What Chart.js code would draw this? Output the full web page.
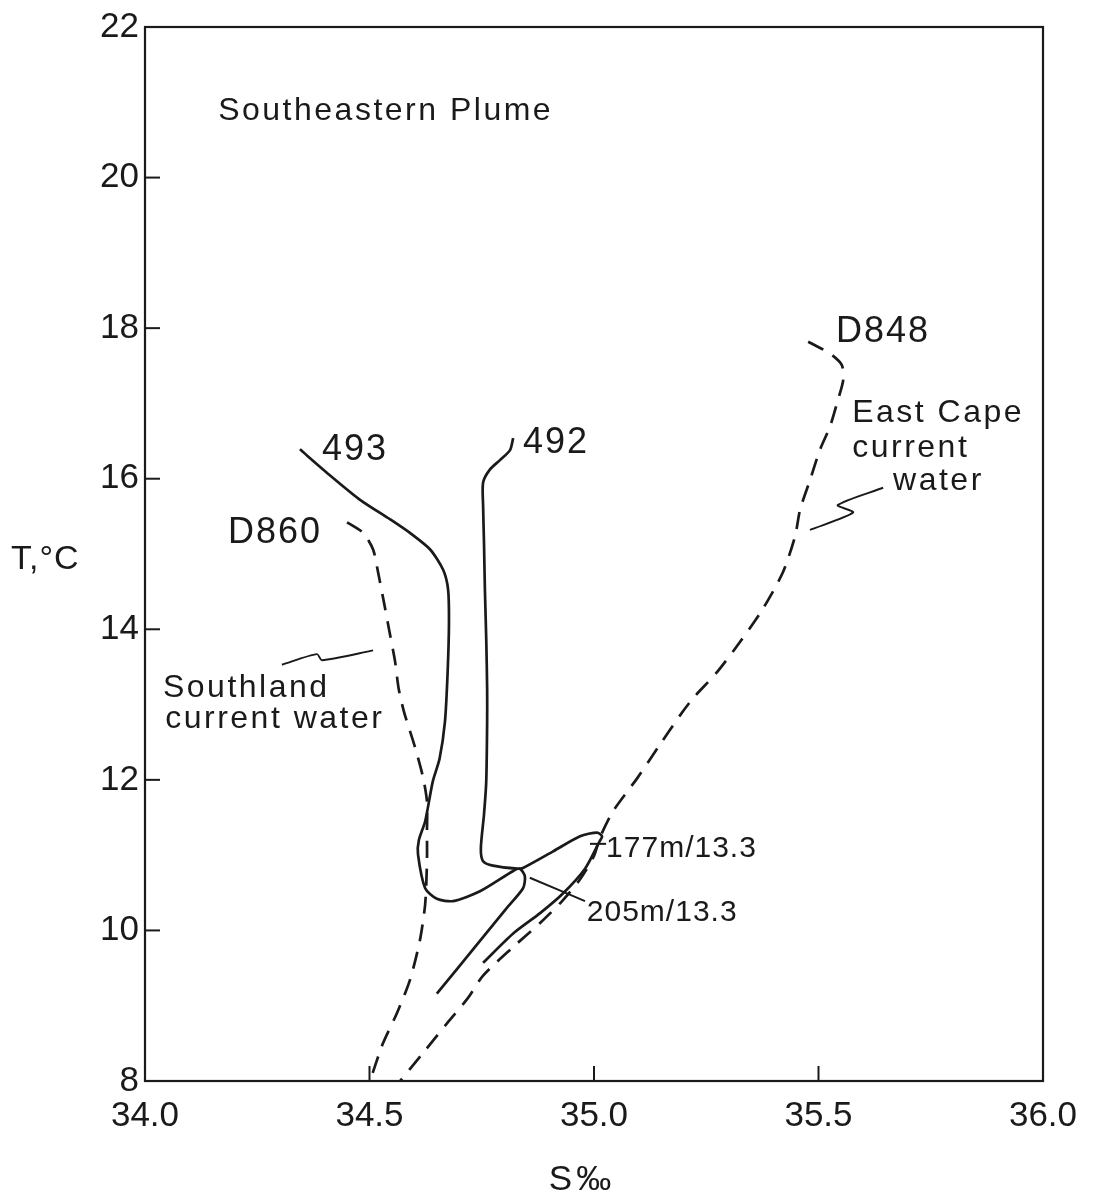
<!DOCTYPE html>
<html>
<head>
<meta charset="utf-8">
<script src="https://cdn.jsdelivr.net/npm/chart.js@4/dist/chart.umd.min.js"></script>
<style>
  html, body { margin: 0; padding: 0; background: #ffffff; }
  #wrap { width: 1097px; height: 1203px; }
</style>
</head>
<body>
<div id="wrap"><canvas id="c" width="1097" height="1203"></canvas></div>
<script>
// ---- Axis ticks ----
const xTicks = [34.0, 34.5, 35.0, 35.5, 36.0];
const yTicks = [8, 10, 12, 14, 16, 18, 20, 22];

// ---- Station 493 (solid) ----
const s493 = [34.345,34.405,34.479,34.546,34.590,34.635,34.664,34.675,34.677,34.674,34.668,34.656,34.641,34.624,34.610,34.608,34.624,34.650,34.686,34.746,34.820,34.835,34.846,34.842,34.806,34.746,34.650];
const t493 = [16.39,16.08,15.72,15.46,15.28,15.06,14.79,14.53,14.09,13.43,12.77,12.28,11.98,11.45,11.20,11.01,10.56,10.42,10.39,10.52,10.79,10.82,10.72,10.56,10.30,9.86,9.16];

// ---- Station 492 (solid) ----
const s492 = [34.820,34.813,34.791,34.768,34.753,34.753,34.755,34.757,34.760,34.762,34.762,34.760,34.755,34.748,34.753,34.775,34.829,34.842,34.909,34.969,35.007,35.018,35.013,34.980,34.929,34.880,34.820,34.753];
const t492 = [16.54,16.38,16.25,16.12,15.95,15.64,15.15,14.53,13.87,13.21,12.77,11.98,11.54,11.09,10.92,10.86,10.82,10.83,11.05,11.25,11.30,11.25,11.19,10.82,10.48,10.23,9.96,9.57];

// ---- Station D860 (dashed, Southland current water) ----
const sD860 = [34.450,34.486,34.508,34.519,34.535,34.546,34.557,34.565,34.577,34.601,34.619,34.628,34.628,34.628,34.624,34.612,34.590,34.561,34.530,34.501];
const tD860 = [15.42,15.28,15.06,14.76,14.27,13.92,13.57,13.21,12.90,12.44,12.04,11.71,11.32,10.92,10.35,9.86,9.34,8.90,8.50,8.00];

// ---- Station D848 (dashed, East Cape current water) ----
const sD848 = [35.477,35.526,35.552,35.555,35.543,35.526,35.503,35.481,35.459,35.448,35.421,35.376,35.325,35.274,35.220,35.192,35.147,35.096,35.042,35.013,35.000,34.969,34.929,34.880,34.820,34.753,34.719,34.673,34.619,34.568];
const tD848 = [17.82,17.66,17.51,17.31,17.04,16.70,16.38,15.98,15.59,15.24,14.76,14.27,13.83,13.43,13.08,12.86,12.47,12.02,11.58,11.23,10.99,10.68,10.39,10.10,9.78,9.40,9.10,8.77,8.37,8.00];

// ---- Annotation leader lines ----
const sLeadSouth = [34.305,34.383,34.394,34.508];
const tLeadSouth = [13.53,13.67,13.59,13.72];
const sLeadEast = [35.481,35.577,35.543,35.644];
const tLeadEast = [15.32,15.55,15.65,15.88];
const sLead205 = [34.857,34.980];
const tLead205 = [10.70,10.39];
const sMark177 = [34.991,35.027];
const tMark177 = [11.15,11.15];

// ---- Text labels (anchor S, T; left aligned) ----
const labelTexts = ["Southeastern Plume","493","492","D860","D848","East Cape","current","water","Southland","current water","177m/13.3","205m/13.3"];
const labelS = [34.163,34.394,34.842,34.185,35.539,35.575,35.575,35.666,34.040,34.045,35.027,34.984];
const labelT = [20.88,16.38,16.47,15.28,17.95,16.87,16.41,15.97,13.22,12.80,11.08,10.23];

const FONT = '"Liberation Sans", Arial, sans-serif';
const INK = '#1a1a1a';

function pts(s, t) { return s.map((v, i) => ({ x: v, y: t[i] })); }

function lineSet(label, s, t, dashed, width) {
  return {
    label: label,
    data: pts(s, t),
    showLine: true,
    borderColor: INK,
    backgroundColor: INK,
    borderWidth: width || 2.7,
    borderDash: dashed ? [17, 11] : [],
    pointRadius: 0,
    tension: 0.25,
    fill: false
  };
}

const annotPlugin = {
  id: 'annot',
  afterDraw(chart) {
    const ctx = chart.ctx;
    const a = chart.chartArea;
    const xs = chart.scales.x, ys = chart.scales.y;
    ctx.save();
    // frame
    ctx.strokeStyle = INK;
    ctx.lineWidth = 2.2;
    ctx.strokeRect(a.left, a.top, a.right - a.left, a.bottom - a.top);
    // inward ticks
    ctx.lineWidth = 2;
    yTicks.forEach(v => {
      if (v <= yTicks[0] || v >= yTicks[yTicks.length - 1]) return;
      const y = ys.getPixelForValue(v);
      ctx.beginPath(); ctx.moveTo(a.left, y); ctx.lineTo(a.left + 15, y); ctx.stroke();
    });
    xTicks.forEach(v => {
      if (v <= xTicks[0] || v >= xTicks[xTicks.length - 1]) return;
      const x = xs.getPixelForValue(v);
      ctx.beginPath(); ctx.moveTo(x, a.bottom); ctx.lineTo(x, a.bottom - 15); ctx.stroke();
    });
    // text labels
    ctx.fillStyle = INK;
    ctx.textAlign = 'left';
    ctx.textBaseline = 'middle';
    labelTexts.forEach((txt, i) => {
      let size = 32, ls = '2.5px';
      if (/^(493|492|D860|D848)$/.test(txt)) { size = 36; ls = '2px'; }
      if (/m\/13/.test(txt)) { size = 30; ls = '1px'; }
      ctx.font = size + 'px ' + FONT;
      ctx.letterSpacing = ls;
      ctx.fillText(txt, xs.getPixelForValue(labelS[i]), ys.getPixelForValue(labelT[i]));
    });
    // axis titles
    ctx.letterSpacing = '1px';
    ctx.font = '34px ' + FONT;
    ctx.fillText('T,°C', 11, 560);
    ctx.letterSpacing = '4px';
    ctx.font = '35px ' + FONT;
    ctx.textAlign = 'center';
    ctx.fillText('S‰', (a.left + a.right) / 2 - 12, 1180);
    ctx.restore();
  }
};

new Chart(document.getElementById('c'), {
  type: 'scatter',
  data: {
    datasets: [
      lineSet('493', s493, t493, false),
      lineSet('492', s492, t492, false),
      lineSet('D860', sD860, tD860, true),
      lineSet('D848', sD848, tD848, true),
      lineSet('lead-south', sLeadSouth, tLeadSouth, false, 2),
      lineSet('lead-east', sLeadEast, tLeadEast, false, 2),
      lineSet('lead-205', sLead205, tLead205, false, 2),
      lineSet('mark-177', sMark177, tMark177, false, 2)
    ]
  },
  options: {
    responsive: false,
    animation: false,
    devicePixelRatio: 1,
    layout: { padding: { top: 22, right: 54, left: 0, bottom: 0 } },
    plugins: { legend: { display: false }, tooltip: { enabled: false }, title: { display: false } },
    scales: {
      x: {
        type: 'linear',
        min: 34, max: 36,
        afterFit(s) { s.height = 122; },
        afterBuildTicks(s) { s.ticks = xTicks.map(v => ({ value: v })); },
        grid: { display: false, drawTicks: false },
        border: { display: false },
        ticks: {
          padding: 14,
          color: INK,
          font: { family: FONT, size: 35 },
          callback: v => Number(v).toFixed(1)
        }
      },
      y: {
        type: 'linear',
        min: 8, max: 22,
        afterFit(s) { s.width = 145; },
        afterBuildTicks(s) { s.ticks = yTicks.map(v => ({ value: v })); },
        grid: { display: false, drawTicks: false },
        border: { display: false },
        ticks: {
          padding: 6,
          color: INK,
          font: { family: FONT, size: 35 },
          callback: v => String(v)
        }
      }
    }
  },
  plugins: [annotPlugin]
});
</script>
</body>
</html>
